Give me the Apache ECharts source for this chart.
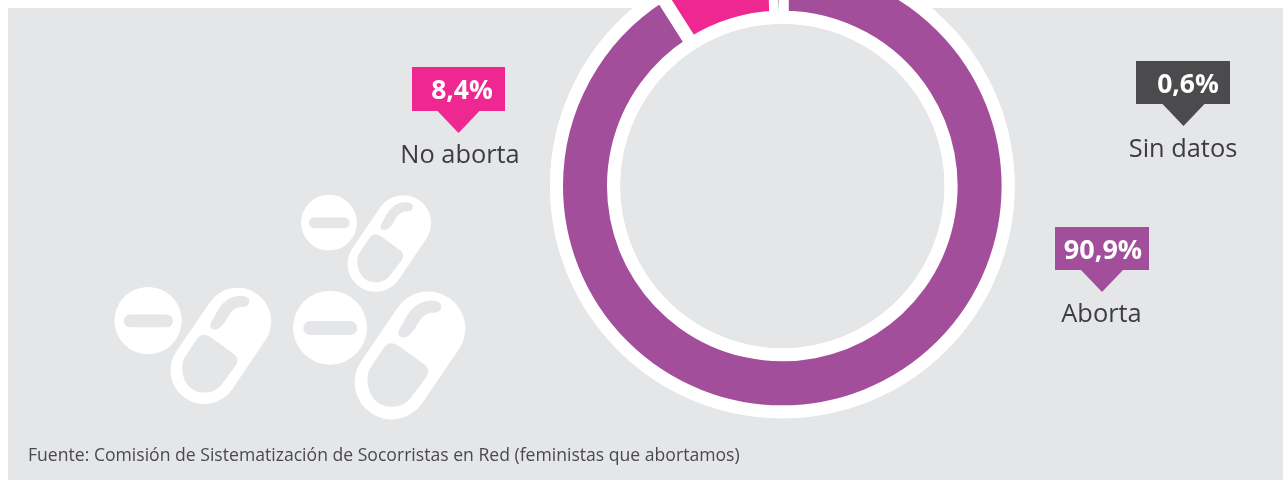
<!DOCTYPE html>
<html>
<head>
<meta charset="utf-8">
<style>
  html, body { margin: 0; padding: 0; background: #fff; }
  #chart { width: 1283px; height: 480px; }
</style>
</head>
<body>
<div id="chart"></div>
<script src="https://cdn.jsdelivr.net/npm/echarts@6/dist/echarts.min.js"></script>
<script>
  const categories = ['Aborta', 'No aborta', 'Sin datos']
  const values = [90.9, 8.4, 0.6]
  const colors = ['#a24e9b', '#ee2890', '#4b4b4d']
  const source = 'Fuente: Comisión de Sistematización de Socorristas en Red (feministas que abortamos)'

  const bg = '#e5e6e8'
  const font = '"Open Sans", sans-serif'

  // cajas de las etiquetas: x0, x1, y0, y1, punta x, punta y, centro del numero, y del nombre
  const boxes = [
    { x0: 1055, x1: 1149, y0: 227, y1: 270, tipX: 1102, tipY: 292, textX: 1103, textY: 251, nameX: 1101.5, nameY: 315, size: 27 },
    { x0: 412, x1: 505, y0: 67, y1: 111, tipX: 458.5, tipY: 133, textX: 462, textY: 91, nameX: 460, nameY: 156, size: 26.5 },
    { x0: 1136, x1: 1230, y0: 61, y1: 104, tipX: 1183.5, tipY: 126, textX: 1188, textY: 85, nameX: 1183, nameY: 150, size: 26.5 }
  ]

  function callout (i) {
    const b = boxes[i]
    return [
      {
        type: 'polygon',
        shape: {
          points: [
            [b.x0, b.y0], [b.x1, b.y0], [b.x1, b.y1], [b.tipX + 21, b.y1],
            [b.tipX, b.tipY], [b.tipX - 21, b.y1], [b.x0, b.y1]
          ]
        },
        style: { fill: colors[i] }
      },
      {
        type: 'text',
        x: b.textX,
        y: b.textY,
        style: {
          text: values[i].toFixed(1).replace('.', ',') + '%',
          font: 'bold ' + b.size + 'px ' + font,
          fill: '#fff',
          align: 'center',
          verticalAlign: 'middle'
        }
      },
      {
        type: 'text',
        x: b.nameX,
        y: b.nameY,
        style: {
          text: categories[i],
          font: '25.4px ' + font,
          fill: '#3d3d3f',
          align: 'center',
          verticalAlign: 'middle'
        }
      }
    ]
  }

  // formas del icono de pastillas
  echarts.graphic.registerShape('pillBody', echarts.graphic.extendPath(
    'M104.4 16.9 A37 37 0 0 1 165.6 58.5 L128.9 112.5 A37 37 0 0 1 67.7 70.9 Z', {}))
  echarts.graphic.registerShape('pillLower', echarts.graphic.extendPath(
    'M90 57.7 L76.7 77.7 C71 87 74 116 98.3 116 C108 116 114 112 118.3 106 L133.3 86 C136 81 135 77 131.7 74.3 L106.7 56 C101 52 95 50 90 57.7 Z', {}))
  echarts.graphic.registerShape('pillHook', echarts.graphic.extendPath(
    'M141.7 10.3 C147 11 148.5 14 147.7 17 C147 21 144 22 140 22 C130 22 126 30 122 37 C118 43 114 47 110 46.7 C105 46 104 43 106 38.7 L112 28 C118 17 128 8 141.7 10.3 Z', {}))

  function pills (x, y, s) {
    const white = { fill: '#fff' }
    const grey = { fill: bg }
    return {
      type: 'group',
      x: x,
      y: y,
      scaleX: s,
      scaleY: s,
      children: [
        { type: 'circle', shape: { cx: 36.7, cy: 37, r: 37 }, style: white },
        { type: 'rect', shape: { x: 10, y: 30.3, width: 54, height: 14, r: 7 }, style: grey },
        { type: 'pillBody', style: white },
        { type: 'pillLower', style: grey },
        { type: 'pillHook', style: grey }
      ]
    }
  }

  const chart = echarts.init(document.getElementById('chart'))
  chart.setOption({
    animation: false,
    graphic: [
      { type: 'rect', z: -1, shape: { x: 8, y: 8, width: 1275, height: 472 }, style: { fill: bg } },
      pills(293.3, 290.7, 1),
      pills(114.7, 287, 0.91),
      pills(301.3, 194.7, 0.755),
      ...callout(0),
      ...callout(1),
      ...callout(2),
      {
        type: 'text',
        x: 28,
        y: 456,
        style: { text: source, font: '17.6px ' + font, fill: '#4a4a4c', verticalAlign: 'middle' }
      }
    ],
    series: [
      {
        // aro blanco detras de la dona
        type: 'pie',
        silent: true,
        center: [782.3, 186],
        radius: [162.3, 232.3],
        label: { show: false },
        labelLine: { show: false },
        itemStyle: { color: '#fff' },
        data: [1],
        z: 1
      },
      {
        type: 'pie',
        silent: true,
        center: [782.3, 186],
        radius: [168.8, 225.8],
        startAngle: 90,
        clockwise: true,
        label: { show: false },
        labelLine: { show: false },
        itemStyle: { borderColor: '#fff', borderWidth: 13 },
        data: categories.map((name, i) => ({
          name: name,
          value: values[i],
          itemStyle: i === 2 ? { color: colors[i], borderWidth: 6.6 } : { color: colors[i] }
        })),
        z: 2
      }
    ]
  })
</script>
</body>
</html>
